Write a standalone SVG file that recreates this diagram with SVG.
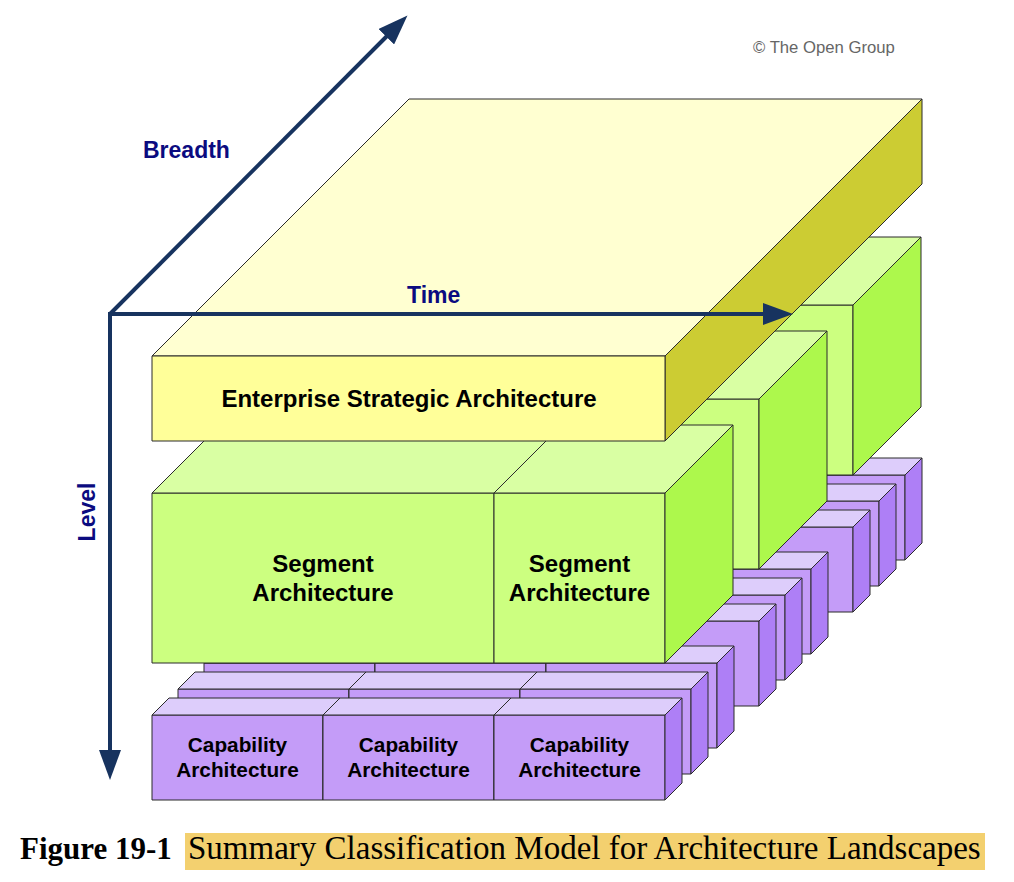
<svg xmlns="http://www.w3.org/2000/svg" width="1014" height="882" viewBox="0 0 1014 882">
<style>
.pf{fill:#c49cf8}.pt{fill:#ddcdfb}.ps{fill:#ae7ff6}
.gf{fill:#ccff80}.gt{fill:#d9ffa3}.gs{fill:#adf84c}
.yf{fill:#ffff99}.yt{fill:#ffffd1}.ys{fill:#cccc33}
.pf,.pt,.ps,.gf,.gt,.gs,.yf,.yt,.ys{stroke:#2b2b2b;stroke-width:1;stroke-linejoin:round}
.lbl{font-family:"Liberation Sans",Arial,sans-serif;font-weight:bold;fill:#000;text-anchor:middle}
.big{font-size:24px}
.cap{font-size:20.8px}
.axl{font-family:"Liberation Sans",Arial,sans-serif;font-weight:bold;font-size:23px;fill:#0b0b80}
.axis{stroke:#17335f;stroke-width:4;fill:none}
</style>
<defs>
<marker id="ah" viewBox="0 0 30 22" refX="1" refY="11" markerWidth="30" markerHeight="22" markerUnits="userSpaceOnUse" orient="auto">
<path d="M0,0 L30,11 L0,22 z" fill="#17335f"/>
</marker>
<g id="pbox">
<rect class="pf" x="0" y="0" width="171" height="85"/>
<polygon class="pt" points="0,0 171,0 188,-17 17,-17"/>
<polygon class="ps" points="171,0 188,-17 188,68 171,85"/>
</g>
<g id="grow">
<rect class="gf" x="0" y="0" width="342" height="170"/>
<polygon class="gt" points="0,0 342,0 410,-68 68,-68"/>
<rect class="gf" x="342" y="0" width="171" height="170"/>
<polygon class="gt" points="342,0 513,0 581,-68 410,-68"/>
<polygon class="gs" points="513,0 581,-68 581,102 513,170"/>
</g>
</defs>
<rect width="1014" height="882" fill="#fff"/>

<text x="753" y="53" font-family="'Liberation Sans',Arial,sans-serif" font-size="16.7" fill="#666">© The Open Group</text>

<!-- back group (g2) -->
<g id="cap-g2-s2"><use href="#pbox" x="392" y="475"/><use href="#pbox" x="563" y="475"/><use href="#pbox" x="734" y="475"/></g>
<g id="cap-g2-s1"><use href="#pbox" x="366" y="501"/><use href="#pbox" x="537" y="501"/><use href="#pbox" x="708" y="501"/></g>
<g id="cap-g2-s0"><use href="#pbox" x="340" y="527"/><use href="#pbox" x="511" y="527"/><use href="#pbox" x="682" y="527"/></g>
<g id="seg-row2"><use href="#grow" x="340" y="305"/></g>

<!-- middle group (g1) -->
<g id="cap-g1-s2"><use href="#pbox" x="298" y="569"/><use href="#pbox" x="469" y="569"/><use href="#pbox" x="640" y="569"/></g>
<g id="cap-g1-s1"><use href="#pbox" x="272" y="595"/><use href="#pbox" x="443" y="595"/><use href="#pbox" x="614" y="595"/></g>
<g id="cap-g1-s0"><use href="#pbox" x="246" y="621"/><use href="#pbox" x="417" y="621"/><use href="#pbox" x="588" y="621"/></g>
<g id="seg-row1"><use href="#grow" x="246" y="399"/></g>

<!-- front group (g0) -->
<g id="cap-g0-s2"><use href="#pbox" x="204" y="663"/><use href="#pbox" x="375" y="663"/><use href="#pbox" x="546" y="663"/></g>
<g id="cap-g0-s1"><use href="#pbox" x="178" y="689"/><use href="#pbox" x="349" y="689"/><use href="#pbox" x="520" y="689"/></g>
<g id="cap1">
<use href="#pbox" x="152" y="715"/>
<text class="lbl cap" x="237.5" y="752">Capability</text>
<text class="lbl cap" x="237.5" y="777">Architecture</text>
</g>
<g id="cap2">
<use href="#pbox" x="323" y="715"/>
<text class="lbl cap" x="408.5" y="752">Capability</text>
<text class="lbl cap" x="408.5" y="777">Architecture</text>
</g>
<g id="cap3">
<use href="#pbox" x="494" y="715"/>
<text class="lbl cap" x="579.5" y="752">Capability</text>
<text class="lbl cap" x="579.5" y="777">Architecture</text>
</g>

<g id="seg1">
<rect class="gf" x="152" y="493" width="342" height="170"/>
<polygon class="gt" points="152,493 494,493 562,425 220,425"/>
<text class="lbl big" x="323" y="572">Segment</text>
<text class="lbl big" x="323" y="601">Architecture</text>
</g>
<g id="seg2">
<rect class="gf" x="494" y="493" width="171" height="170"/>
<polygon class="gt" points="494,493 665,493 733,425 562,425"/>
<polygon class="gs" points="665,493 733,425 733,595 665,663"/>
<text class="lbl big" x="579.5" y="572">Segment</text>
<text class="lbl big" x="579.5" y="601">Architecture</text>
</g>

<g id="enterprise">
<polygon class="yt" points="152,356 665,356 922,99 409,99"/>
<polygon class="ys" points="665,356 922,99 922,184 665,441"/>
<rect class="yf" x="152" y="356" width="513" height="85"/>
<text class="lbl big" x="409" y="407">Enterprise Strategic Architecture</text>
</g>

<g id="connectors">
<line class="axis" x1="110" y1="314" x2="387" y2="36" marker-end="url(#ah)"/>
<line class="axis" x1="110" y1="314" x2="764" y2="314" marker-end="url(#ah)"/>
<line class="axis" x1="110" y1="312" x2="110" y2="751" marker-end="url(#ah)"/>
<text class="axl" x="143" y="158">Breadth</text>
<text class="axl" x="407" y="303">Time</text>
<text class="axl" x="95" y="512" text-anchor="middle" transform="rotate(-90 95 512)">Level</text>
</g>

<g id="caption">
<rect x="185" y="833" width="800" height="37" fill="#f3d06f"/>
<text x="20" y="859" font-family="'Liberation Serif','Times New Roman',serif" font-weight="bold" font-size="31" fill="#000">Figure 19-1</text>
<text x="188" y="859" font-family="'Liberation Serif','Times New Roman',serif" font-size="33" fill="#000">Summary Classification Model for Architecture Landscapes</text>
</g>
</svg>
